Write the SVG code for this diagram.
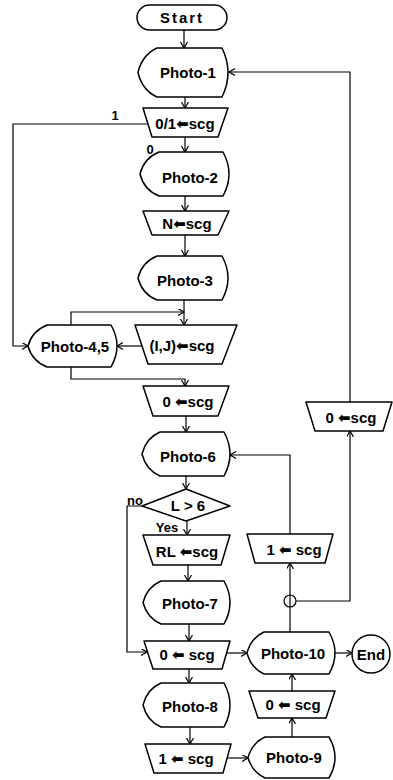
<svg xmlns="http://www.w3.org/2000/svg" width="393" height="780" viewBox="0 0 393 780">
<defs>
<marker id="ah" markerUnits="userSpaceOnUse" markerWidth="10" markerHeight="10" refX="6" refY="3.5" orient="auto">
<path d="M0,0 L6,3.5 L0,7" fill="none" stroke="#000" stroke-width="1.2"/>
</marker>
<style>
.s{fill:#fff;stroke:#000;stroke-width:1.5;stroke-linejoin:round}
.c{fill:none;stroke:#000;stroke-width:1.2;marker-end:url(#ah)}
.l{fill:none;stroke:#000;stroke-width:1.2}
text{font-family:"Liberation Sans","DejaVu Sans",sans-serif;font-weight:bold;font-size:15px;fill:#000;text-anchor:middle}
.a{font-family:"DejaVu Sans",sans-serif;font-size:15px}
.sm{font-size:13px}
</style>
</defs>
<rect width="393" height="780" fill="#fff"/>

<g id="connectors">
<path class="c" d="M184,30 V48"/>
<path class="c" d="M185,97 V108"/>
<path class="c" d="M148,124 H13 V346 H28"/>
<path class="c" d="M185,137 V152"/>
<path class="c" d="M185,196 V211"/>
<path class="c" d="M185,235 V256"/>
<path class="c" d="M184,300 V325"/>
<path class="c" d="M71,325 V312 H184"/>
<path class="c" d="M142,346 H117"/>
<path class="c" d="M71,367 V379 H185 V386"/>
<path class="c" d="M186,416 V432"/>
<path class="c" d="M186,476 V489"/>
<path class="c" d="M142,506 H127 V652 H147"/>
<path class="c" d="M187,521 V535"/>
<path class="c" d="M188,565 V581"/>
<path class="c" d="M189,624 V641"/>
<path class="c" d="M226,653 H247"/>
<path class="c" d="M335,653 H352"/>
<path class="c" d="M290,632 V563"/>
<circle class="l" cx="290" cy="601" r="6"/>
<path class="c" d="M296,601 H350 V431"/>
<path class="c" d="M350,402 V72 H229"/>
<path class="c" d="M290,534 V455 H230"/>
<path class="c" d="M189,669 V683"/>
<path class="c" d="M190,727 V744"/>
<path class="c" d="M227,758 H248"/>
<path class="c" d="M292,737 V718"/>
<path class="c" d="M292,691 V674"/>
<text x="115" y="120" class="sm">1</text>
<text x="150" y="154" class="sm">0</text>
<text x="135" y="505" class="sm">no</text>
<text x="167" y="532" class="sm">Yes</text>
</g>

<g id="start"><rect class="s" x="137" y="5" width="90" height="25" rx="12.5"/><text x="182" y="23" letter-spacing="2">Start</text></g>

<g id="photo1"><path class="s" d="M157,48 H222 Q234,72.5 222,97 H157 Q142,90 138,72.5 Q142,55 157,48 Z"/><text x="188" y="78">Photo-1</text></g>

<g id="scg01"><path class="s" d="M143,108 H228 L218,137 H152 Z"/><text x="185" y="129">0/1<tspan class="a">⬅</tspan>scg</text></g>

<g id="photo2"><path class="s" d="M159,152 H223 Q235,174 223,196 H159 Q144,190 140,174 Q144,158 159,152 Z"/><text x="190" y="183">Photo-2</text></g>

<g id="scgN"><path class="s" d="M143,211 H229 L218,235 H152 Z"/><text x="187" y="229">N<tspan class="a">⬅</tspan>scg</text></g>

<g id="photo3"><path class="s" d="M157,256 H222 Q234,278 222,300 H157 Q142,294 138,278 Q142,262 157,256 Z"/><text x="185" y="286">Photo-3</text></g>

<g id="scgIJ"><path class="s" d="M135,325 H237 L222,364 H148 Z"/><text x="182" y="351">(I,J)<tspan class="a">⬅</tspan>scg</text></g>

<g id="photo45"><path class="s" d="M47,325 H111 Q123,346 111,367 H47 Q32,361 28,346 Q32,331 47,325 Z"/><text x="75" y="352">Photo-4,5</text></g>

<g id="scg0a"><path class="s" d="M143,386 H229 L218,416 H153 Z"/><text x="188" y="407">0 <tspan class="a">⬅</tspan>scg</text></g>

<g id="scg0r"><path class="s" d="M306,402 H392 L383,431 H315 Z"/><text x="351" y="423">0 <tspan class="a">⬅</tspan>scg</text></g>

<g id="photo6"><path class="s" d="M160,432 H224 Q236,454 224,476 H160 Q146,470 142,454 Q146,438 160,432 Z"/><text x="188" y="462">Photo-6</text></g>

<g id="dec"><path class="s" d="M142,506 L186,489 L230,506 L186,521 Z"/><text x="188" y="511">L &gt; 6</text></g>

<g id="scgRL"><path class="s" d="M143,535 H230 L221,565 H153 Z"/><text x="187" y="557">RL <tspan class="a">⬅</tspan>scg</text></g>

<g id="scg1r"><path class="s" d="M247,534 H333 L325,563 H255 Z"/><text x="294" y="555">1 <tspan class="a">⬅</tspan> scg</text></g>

<g id="photo7"><path class="s" d="M161,581 H224 Q236,602.5 224,624 H161 Q147,618 143,602.5 Q147,587 161,581 Z"/><text x="190" y="609">Photo-7</text></g>

<g id="scg0b"><path class="s" d="M144,641 H230 L222,669 H153 Z"/><text x="187" y="660">0 <tspan class="a">⬅</tspan> scg</text></g>

<g id="photo10"><path class="s" d="M264,632 H329 Q341,653 329,674 H264 Q251,668 247,653 Q251,638 264,632 Z"/><text x="293" y="659">Photo-10</text></g>

<g id="end"><circle class="s" cx="371" cy="654" r="19"/><text x="371" y="660">End</text></g>

<g id="photo8"><path class="s" d="M161,683 H224 Q236,705 224,727 H161 Q147,721 143,705 Q147,689 161,683 Z"/><text x="190" y="712">Photo-8</text></g>

<g id="scg0c"><path class="s" d="M249,691 H335 L326,718 H258 Z"/><text x="293" y="710">0 <tspan class="a">⬅</tspan> scg</text></g>

<g id="scg1b"><path class="s" d="M145,744 H231 L223,773 H154 Z"/><text x="186" y="764">1 <tspan class="a">⬅</tspan> scg</text></g>

<g id="photo9"><path class="s" d="M265,737 H329 Q341,757.5 329,778 H265 Q252,772 248,757.5 Q252,743 265,737 Z"/><text x="294" y="763">Photo-9</text></g>
</svg>
